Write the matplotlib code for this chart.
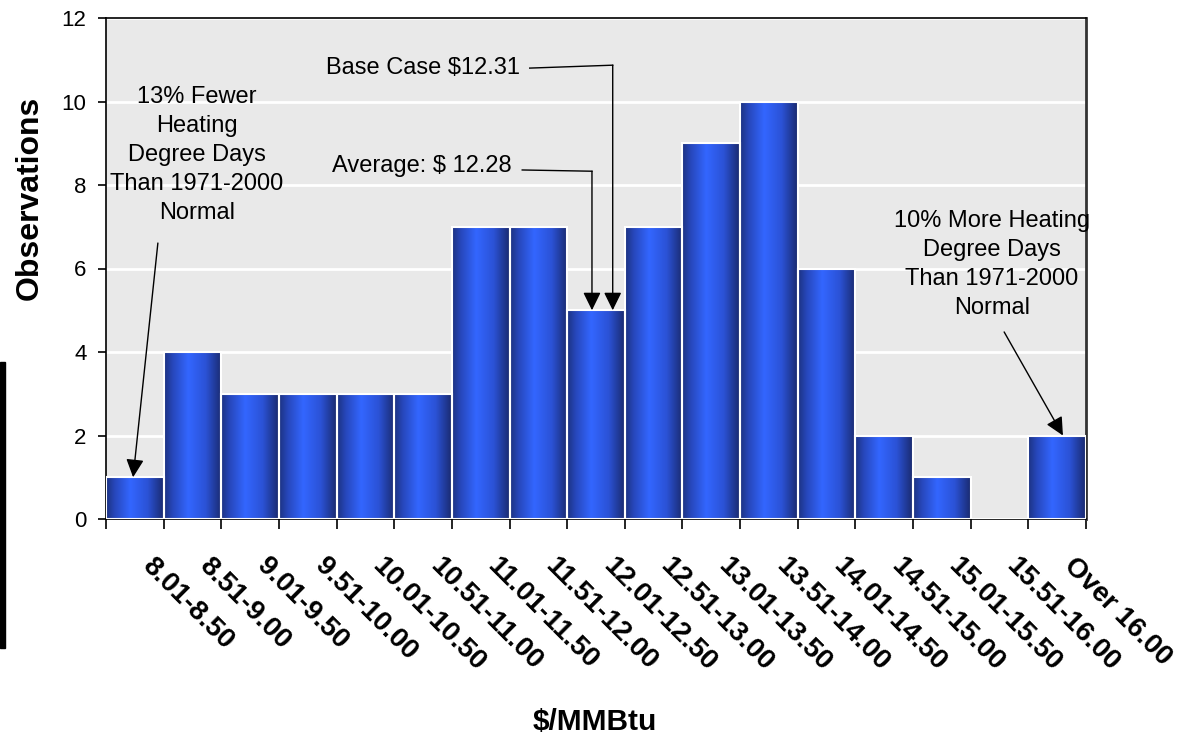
import numpy as np
import matplotlib
matplotlib.use("Agg")
import matplotlib.pyplot as plt
from matplotlib.colors import LinearSegmentedColormap
from matplotlib.patches import Rectangle
from matplotlib.transforms import ScaledTranslation, blended_transform_factory

# Histogram of simulated prices
price_bins = ["8.01-8.50", "8.51-9.00", "9.01-9.50", "9.51-10.00", "10.01-10.50",
              "10.51-11.00", "11.01-11.50", "11.51-12.00", "12.01-12.50", "12.51-13.00",
              "13.01-13.50", "13.51-14.00", "14.01-14.50", "14.51-15.00", "15.01-15.50",
              "15.51-16.00", "Over 16.00"]
observations = [1, 4, 3, 3, 3, 3, 7, 7, 5, 7, 9, 10, 6, 2, 1, 0, 2]
y_ticks = [0, 2, 4, 6, 8, 10, 12]

note_low = "13% Fewer\nHeating\nDegree Days\nThan 1971-2000\nNormal"
note_high = "10% More Heating\nDegree Days\nThan 1971-2000\nNormal"
note_avg = "Average: $ 12.28"
note_base = "Base Case $12.31"

plt.rcParams['font.family'] = ['Liberation Sans', 'DejaVu Sans']

fig = plt.figure(figsize=(11.88, 7.37), dpi=100)
ax = fig.add_axes([106 / 1188, 1 - 519 / 737, 980 / 1188, 501 / 737])
ax.set_facecolor('#e9e9e9')

x = np.arange(len(observations))

# Bars with horizontal shading
shade = LinearSegmentedColormap.from_list(
    "bar_shade",
    [(0.0, '#1c3280'), (0.15, '#2747bb'), (0.42, '#3366ff'),
     (0.72, '#2b52d6'), (1.0, '#1a2a6e')])
grad = np.linspace(0, 1, 256).reshape(1, -1)
bars = ax.bar(x, observations, width=1.0, facecolor='none', edgecolor='white',
              linewidth=1.5, zorder=3)
for rect, val in zip(bars, observations):
    if val <= 0:
        continue
    x0 = rect.get_x()
    im = ax.imshow(grad, cmap=shade, aspect='auto',
                   extent=[x0, x0 + rect.get_width(), 0, val], zorder=2,
                   interpolation='bilinear')
    im.set_clip_path(rect)

ax.set_xlim(-0.5, len(observations) - 0.5)
ax.set_ylim(0, 12)

# Grid
ax.set_yticks(y_ticks)
ax.yaxis.grid(True, color='white', linewidth=2)
ax.set_axisbelow(True)

ax.tick_params(axis='y', direction='out', length=6, width=1.2, pad=8,
               labelsize=16, colors='black')
ax.set_xticks(np.arange(-0.5, len(observations), 1.0))
ax.set_xticklabels([])
ax.tick_params(axis='x', direction='out', length=7, width=1.2)

for side in ['left', 'top', 'bottom']:
    ax.spines[side].set_color('black')
    ax.spines[side].set_linewidth(1.2)
ax.spines['right'].set_color('#333333')
ax.spines['right'].set_linewidth(2.0)

# Rotated category labels
trans = blended_transform_factory(ax.transData, ax.transAxes) + \
    ScaledTranslation(20 / 100, -34 / 100, fig.dpi_scale_trans)
for xi, lab in zip(x, price_bins):
    ax.text(xi, 0, lab, transform=trans, rotation=-45, rotation_mode='anchor',
            ha='left', va='top', fontsize=20, fontweight='bold')

# Axis titles
fig.text(30 / 1188, 1 - 198 / 737, "Observations", fontsize=23, fontweight='bold',
         rotation=90, ha='center', va='center')
fig.text(595 / 1188, 1 - 722 / 737, "$/MMBtu", fontsize=21.5, fontweight='bold',
         ha='center', va='center')

# Annotations
arrow_kw = dict(arrowstyle='-|>,head_length=0.55,head_width=0.27', color='black',
                lw=1.0, shrinkA=0, shrinkB=0, mutation_scale=20)

ax.text(1.08, 8.72, note_low, ha='center', va='center', fontsize=17,
        linespacing=1.42, zorder=5)
ax.annotate('', xy=(-0.03, 1.0), xytext=(0.40, 6.61),
            arrowprops=arrow_kw, annotation_clip=False)

ax.text(14.87, 6.10, note_high, ha='center', va='center', fontsize=17,
        linespacing=1.42, zorder=5, clip_on=False)
ax.annotate('', xy=(16.10, 2.0), xytext=(15.08, 4.48),
            arrowprops=arrow_kw, annotation_clip=False)

ax.text(6.54, 8.46, note_avg, ha='right', va='center', fontsize=17, zorder=5)
ax.plot([6.72, 7.93], [8.36, 8.33], color='black', lw=1.0, zorder=5)
ax.annotate('', xy=(7.93, 5.0), xytext=(7.93, 8.33), arrowprops=arrow_kw)

ax.text(6.68, 10.80, note_base, ha='right', va='center', fontsize=17, zorder=5)
ax.plot([6.85, 8.29], [10.80, 10.87], color='black', lw=1.0, zorder=5)
ax.annotate('', xy=(8.29, 5.0), xytext=(8.29, 10.87), arrowprops=arrow_kw)

# Black strip at left edge
fig.patches.append(Rectangle((0, 1 - 648 / 737), 5 / 1188, 286 / 737,
                             transform=fig.transFigure, color='black'))

fig.savefig("out.png", dpi=100)
